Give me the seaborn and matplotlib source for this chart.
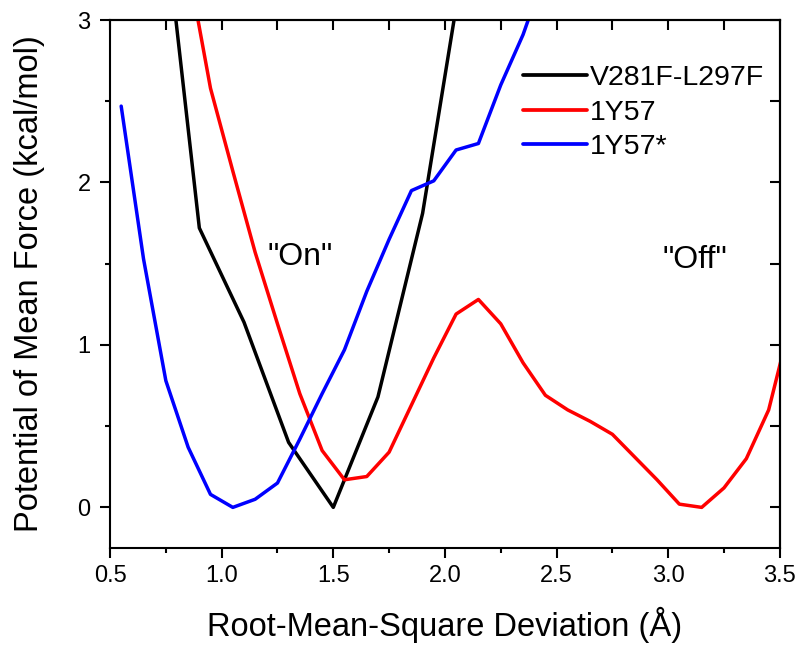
import numpy as np
import pandas as pd
import matplotlib
matplotlib.use("Agg")
import matplotlib.pyplot as plt
from matplotlib.ticker import MultipleLocator
import seaborn as sns

# values
black_x = [0.7, 0.9, 1.1, 1.3, 1.5, 1.7, 1.9, 2.1]
black_y = [4.16, 1.72, 1.14, 0.40, 0.0, 0.68, 1.81, 3.5]

red_x = [0.85, 0.95, 1.05, 1.15, 1.25, 1.35, 1.45, 1.55, 1.65, 1.75, 1.85, 1.95,
         2.05, 2.15, 2.25, 2.35, 2.45, 2.55, 2.65, 2.75, 2.85, 2.95, 3.05, 3.15,
         3.25, 3.35, 3.45, 3.55]
red_y = [3.33, 2.58, 2.07, 1.57, 1.13, 0.70, 0.35, 0.17, 0.19, 0.34, 0.63, 0.92,
         1.19, 1.28, 1.13, 0.89, 0.69, 0.60, 0.53, 0.45, 0.31, 0.17, 0.02, 0.0,
         0.12, 0.30, 0.60, 1.15]

blue_x = [0.55, 0.65, 0.75, 0.85, 0.95, 1.05, 1.15, 1.25, 1.35, 1.45, 1.55, 1.65,
          1.75, 1.85, 1.95, 2.05, 2.15, 2.25, 2.35, 2.45]
blue_y = [2.47, 1.53, 0.78, 0.37, 0.08, 0.0, 0.05, 0.15, 0.42, 0.70, 0.97, 1.33,
          1.65, 1.95, 2.01, 2.20, 2.24, 2.60, 2.91, 3.30]

names = ["V281F-L297F", "1Y57", "1Y57*"]
colors = ["black", "#ff0000", "#0000ff"]

df = pd.concat([
    pd.DataFrame({"rmsd": black_x, "pmf": black_y, "system": names[0]}),
    pd.DataFrame({"rmsd": red_x, "pmf": red_y, "system": names[1]}),
    pd.DataFrame({"rmsd": blue_x, "pmf": blue_y, "system": names[2]}),
])

sns.set_style("ticks")
plt.rcParams["font.family"] = ["Liberation Sans", "DejaVu Sans"]
plt.rcParams["text.color"] = "black"
plt.rcParams["axes.labelcolor"] = "black"

fig = plt.figure(figsize=(7.99, 6.46), dpi=100)
ax = fig.add_axes([0.1377, 0.1517, 0.8383, 0.8173])

sns.lineplot(data=df, x="rmsd", y="pmf", hue="system", hue_order=names,
             palette=dict(zip(names, colors)), sort=False, estimator=None,
             linewidth=2.5, ax=ax)

ax.set_xlim(0.5, 3.5)
ax.set_ylim(-0.25, 3)
ax.xaxis.set_major_locator(MultipleLocator(0.5))
ax.xaxis.set_minor_locator(MultipleLocator(0.25))
ax.yaxis.set_major_locator(MultipleLocator(1))
ax.yaxis.set_minor_locator(MultipleLocator(0.5))
ax.xaxis.set_major_formatter(plt.FormatStrFormatter("%.1f"))
ax.tick_params(which="major", direction="out", length=7, width=1.5,
               labelsize=17, colors="black", labelcolor="black")
ax.tick_params(axis="x", which="major", pad=5)
ax.tick_params(axis="y", which="major", pad=7)
ax.tick_params(which="minor", direction="out", length=3.8, width=1.5,
               colors="black")

for side in ["top", "right"]:
    if side == "top":
        sec = ax.secondary_xaxis("top")
        sec.xaxis.set_major_locator(MultipleLocator(0.25))
    else:
        sec = ax.secondary_yaxis("right")
        sec.yaxis.set_major_locator(MultipleLocator(0.5))
    sec.tick_params(direction="in", length=7, width=1.5, colors="black",
                    labeltop=False, labelright=False)
    for sp in sec.spines.values():
        sp.set_linewidth(1.5)
        sp.set_color("black")

for sp in ax.spines.values():
    sp.set_visible(True)
    sp.set_linewidth(1.5)
    sp.set_color("black")

ax.set_xlabel("Root-Mean-Square Deviation (Å)", fontsize=23.5)
ax.set_ylabel("Potential of Mean Force (kcal/mol)", fontsize=23.5)
ax.xaxis.set_label_coords(0.5, -0.112)
ax.yaxis.set_label_coords(-0.097, 0.5)

ax.text(1.35, 1.54, '"On"', fontsize=23, ha="center", va="center")
ax.text(3.12, 1.52, '"Off"', fontsize=23, ha="center", va="center")

leg = ax.legend(loc="upper right", bbox_to_anchor=(0.994, 0.936),
                borderaxespad=0, frameon=False, fontsize=20.5,
                handlelength=2.25, handletextpad=0.1, labelspacing=0.3)
for line in leg.get_lines():
    line.set_linewidth(2.7)

fig.savefig("out.png", dpi=100)
